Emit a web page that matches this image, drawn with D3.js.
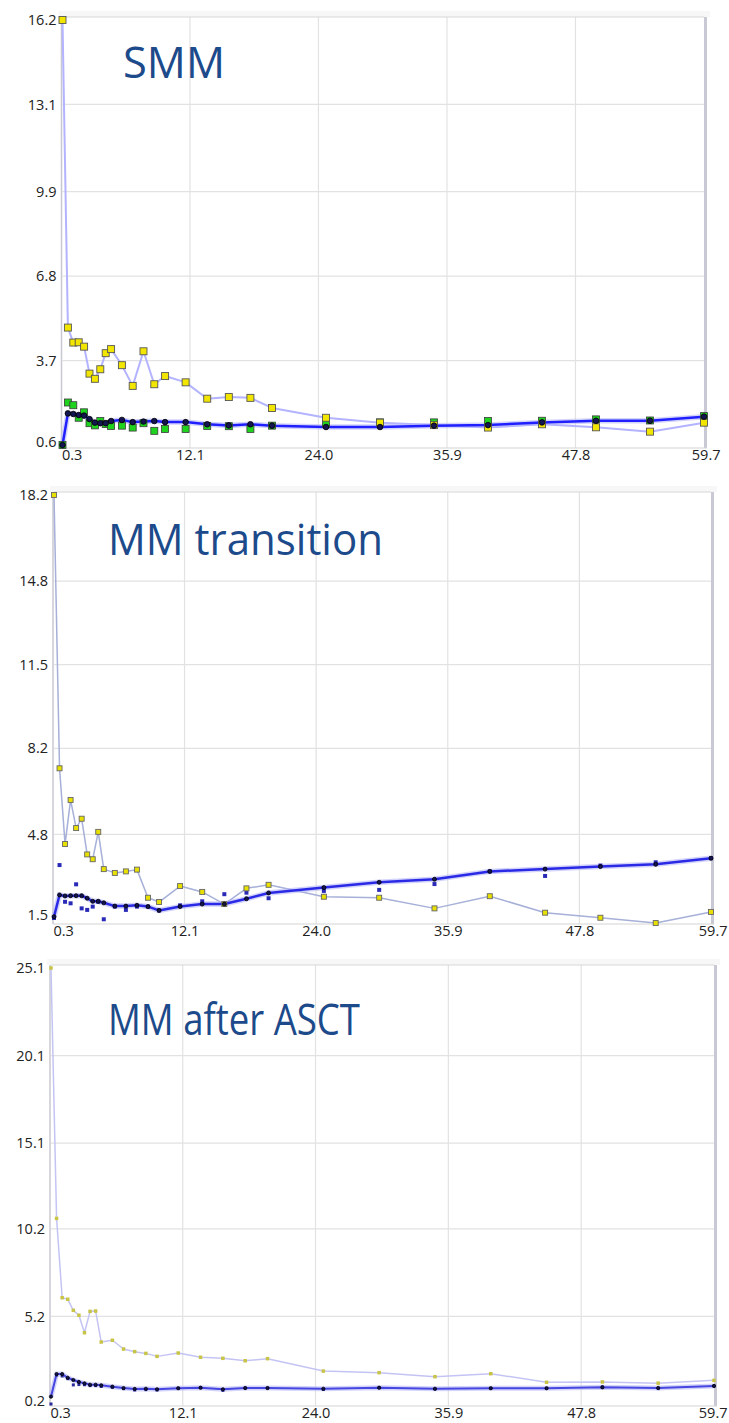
<!DOCTYPE html>
<html>
<head>
<meta charset="utf-8">
<script src="https://cdn.jsdelivr.net/npm/d3@7"></script>
<style>
  html, body { margin: 0; padding: 0; background: #ffffff; }
  svg { display: block; }
</style>
</head>
<body>
<svg id="chart" width="729" height="1423"></svg>
<script>
// ---------- DATA ----------
const months = [0.3, 0.8, 1.3, 1.8, 2.3, 2.8, 3.3, 3.8, 4.3, 4.8, 5.8, 6.8, 7.8, 8.8, 9.8, 11.7, 13.7, 15.7, 17.7, 19.7, 24.7, 29.7, 34.7, 39.7, 44.7, 49.7, 54.7, 59.7];
const xTicks = [0.3, 12.1, 24.0, 35.9, 47.8, 59.7];

const titles = ["SMM", "MM transition", "MM after ASCT"];

const smmTicks = [0.6, 3.7, 6.8, 9.9, 13.1, 16.2];
const smmUpper = [16.2, 4.91, 4.36, 4.37, 4.21, 3.22, 3.03, 3.38, 3.97, 4.12, 3.53, 2.77, 4.04, 2.83, 3.13, 2.90, 2.30, 2.36, 2.33, 1.96, 1.60, 1.42, 1.33, 1.24, 1.36, 1.25, 1.09, 1.42];
const smmMedian = [0.6, 1.76, 1.74, 1.70, 1.68, 1.55, 1.42, 1.40, 1.40, 1.48, 1.52, 1.44, 1.46, 1.48, 1.44, 1.44, 1.36, 1.32, 1.36, 1.31, 1.26, 1.26, 1.31, 1.33, 1.43, 1.49, 1.49, 1.64];
const smmPoints = [0.6, 2.16, 2.06, 1.60, 1.80, 1.40, 1.32, 1.48, 1.37, 1.30, 1.31, 1.24, 1.40, 1.12, 1.19, 1.19, 1.30, 1.29, 1.19, 1.31, 1.38, 1.43, 1.43, 1.48, 1.49, 1.54, 1.50, 1.66];

const transTicks = [1.5, 4.8, 8.2, 11.5, 14.8, 18.2];
const transUpper = [18.2, 7.41, 4.42, 6.16, 5.05, 5.42, 4.01, 3.82, 4.90, 3.43, 3.28, 3.34, 3.41, 2.30, 2.13, 2.76, 2.53, 2.05, 2.67, 2.81, 2.34, 2.30, 1.88, 2.36, 1.71, 1.51, 1.30, 1.74];
const transMedian = [1.55, 2.41, 2.37, 2.38, 2.38, 2.38, 2.28, 2.16, 2.16, 2.10, 1.97, 1.97, 2.00, 1.95, 1.80, 1.95, 2.05, 2.05, 2.26, 2.49, 2.70, 2.91, 3.03, 3.34, 3.43, 3.53, 3.62, 3.86];
const transPoints = [1.5, 3.59, 2.14, 2.08, 2.83, 1.88, 1.82, 1.95, 2.14, 1.45, 1.95, 1.82, 1.95, 1.95, 1.80, 2.00, 2.16, 2.44, 2.50, 2.28, 2.57, 2.61, 2.84, 3.34, 3.16, 3.57, 3.70, 3.86];

const asctTicks = [0.2, 5.2, 10.2, 15.1, 20.1, 25.1];
const asctUpper = [25.1, 10.8, 6.27, 6.18, 5.55, 5.27, 4.27, 5.49, 5.51, 3.74, 3.84, 3.34, 3.19, 3.09, 2.92, 3.11, 2.87, 2.81, 2.67, 2.79, 2.08, 1.99, 1.76, 1.93, 1.44, 1.46, 1.39, 1.55];
const asctMedian = [0.62, 1.91, 1.91, 1.70, 1.57, 1.46, 1.38, 1.30, 1.30, 1.27, 1.19, 1.11, 1.06, 1.07, 1.04, 1.10, 1.13, 1.04, 1.11, 1.11, 1.07, 1.13, 1.07, 1.10, 1.10, 1.15, 1.12, 1.23];
const asctPoints = [0.2, 1.85, 1.80, 1.65, 1.29, 1.31, 1.30, 1.25, 1.25, 1.20, 1.15, 1.08, 1.00, 1.02, 1.00, 1.10, 1.13, 0.98, 1.11, 1.11, 1.03, 1.13, 1.05, 1.10, 1.10, 1.18, 1.08, 1.23];

// ---------- LAYOUT / STYLE ----------
const panels = [
  { title: titles[0], ticks: smmTicks, upper: smmUpper, median: smmMedian, pts: smmPoints,
    box: { l: 62.5, r: 704, t: 20, b: 445 }, titleX: 123, titleY: 78, titleW: 102,
    upLine: "#b3b3ff", upW: 2, upSize: 7, upFill: "#f2e600", upStroke: "#555",
    medLine: "#1f1fff", medW: 2.5, medR: 2.8,
    ptFill: "#1ed21e", ptStroke: "#3a3a3a", ptSize: 7, frameBottom: 448 },
  { title: titles[1], ticks: transTicks, upper: transUpper, median: transMedian, pts: transPoints,
    box: { l: 54, r: 711, t: 495, b: 918 }, titleX: 108, titleY: 555, titleW: 275,
    upLine: "#a6b0d8", upW: 1.5, upSize: 5, upFill: "#e8e000", upStroke: "#666",
    medLine: "#2a2ae6", medW: 2.5, medR: 2,
    ptFill: "#2a2ab8", ptStroke: "none", ptSize: 4, frameBottom: 924 },
  { title: titles[2], ticks: asctTicks, upper: asctUpper, median: asctMedian, pts: asctPoints,
    box: { l: 51, r: 714, t: 968, b: 1404 }, titleX: 108, titleY: 1035, titleW: 252,
    upLine: "#c4c4f4", upW: 1.5, upSize: 3.5, upFill: "#c8c448", upStroke: "none",
    medLine: "#4646e0", medW: 2, medR: 1.6,
    ptFill: "#2a2a9a", ptStroke: "none", ptSize: 3, frameBottom: 1406 }
];

const svg = d3.select("#chart");
const labelFont = "'Open Sans', sans-serif";

panels.forEach((p, pi) => {
  const B = p.box;
  const x = d3.scaleLinear().domain([xTicks[0], xTicks[xTicks.length - 1]]).range([B.l, B.r]);
  const y = d3.scaleLinear().domain([p.ticks[0], p.ticks[p.ticks.length - 1]]).range([B.b, B.t]);
  const g = svg.append("g");

  // faint band above frame
  g.append("rect").attr("x", B.l - 4).attr("y", B.t - 9).attr("width", B.r - B.l + 10).attr("height", 6)
    .attr("fill", "#f7f7f7");

  // grid
  g.append("g").selectAll("line").data(p.ticks.slice(1, -1)).join("line")
    .attr("x1", B.l).attr("x2", B.r).attr("y1", d => y(d)).attr("y2", d => y(d))
    .attr("stroke", "#e2e2e2").attr("stroke-width", 1.2);
  g.append("g").selectAll("line").data(xTicks.slice(1, -1)).join("line")
    .attr("x1", d => x(d)).attr("x2", d => x(d)).attr("y1", B.t - 3).attr("y2", p.frameBottom)
    .attr("stroke", "#e2e2e2").attr("stroke-width", 1.2);

  // frame
  g.append("line").attr("x1", B.l).attr("x2", B.r).attr("y1", B.t - 3).attr("y2", B.t - 3)
    .attr("stroke", "#d8d8d8").attr("stroke-width", 1.2);
  g.append("line").attr("x1", B.r + 1.5).attr("x2", B.r + 1.5).attr("y1", B.t - 3).attr("y2", p.frameBottom)
    .attr("stroke", "#c9c9d6").attr("stroke-width", 3);
  g.append("line").attr("x1", B.l - 1).attr("x2", B.l - 1).attr("y1", B.t - 3).attr("y2", p.frameBottom)
    .attr("stroke", "#c8c8d0").attr("stroke-width", 1.5);
  g.append("line").attr("x1", B.l - 1).attr("x2", B.r + 3).attr("y1", p.frameBottom).attr("y2", p.frameBottom)
    .attr("stroke", "#d4d4d4").attr("stroke-width", 1.2);

  // axes tick labels
  const yAxis = d3.axisLeft(y).tickValues(p.ticks).tickSize(0).tickPadding(5).tickFormat(d3.format(".1f"));
  const ya = g.append("g").attr("transform", `translate(${B.l - 1},0)`).call(yAxis);
  ya.select(".domain").remove();
  ya.selectAll("text").attr("font-family", labelFont).attr("font-size", 14.5).attr("fill", "#222");
  ya.selectAll("text").filter((d, i) => i === 0).attr("dy", "0.1em");

  const xAxis = d3.axisBottom(x).tickValues(xTicks).tickSize(0).tickPadding(2).tickFormat(d3.format(".1f"));
  const xa = g.append("g").attr("transform", `translate(0,${p.frameBottom})`).call(xAxis);
  xa.select(".domain").remove();
  xa.selectAll("text").attr("font-family", labelFont).attr("font-size", 14.5).attr("fill", "#222");
  xa.selectAll("text").filter((d, i) => i === 0).attr("text-anchor", "start").attr("dx", "-1");
  xa.selectAll("text").filter((d, i) => i === xTicks.length - 1)
    .attr("text-anchor", "end").attr("x", Math.min(16, 727 - B.r));

  // title
  g.append("text").attr("x", p.titleX).attr("y", p.titleY)
    .attr("font-family", labelFont).attr("font-size", 43)
    .attr("textLength", p.titleW).attr("lengthAdjust", "spacingAndGlyphs")
    .attr("fill", "#1c4a8a").text(p.title);

  const line = d3.line().x((d, i) => x(months[i])).y(d => y(d));

  // upper series line
  g.append("path").datum(p.upper).attr("d", line).attr("fill", "none")
    .attr("stroke", p.upLine).attr("stroke-width", p.upW).attr("stroke-linejoin", "round");

  // median line with soft band
  g.append("path").datum(p.median).attr("d", line).attr("fill", "none")
    .attr("stroke", "#b8b8f8").attr("stroke-width", p.medW + 3).attr("stroke-opacity", 0.6);
  g.append("path").datum(p.median).attr("d", line).attr("fill", "none")
    .attr("stroke", p.medLine).attr("stroke-width", p.medW).attr("stroke-linejoin", "round");

  // extra point series (squares)
  g.append("g").selectAll("rect").data(p.pts).join("rect")
    .attr("x", (d, i) => x(months[i]) - p.ptSize / 2).attr("y", d => y(d) - p.ptSize / 2)
    .attr("width", p.ptSize).attr("height", p.ptSize)
    .attr("fill", p.ptFill).attr("stroke", p.ptStroke).attr("stroke-width", 0.8);

  // upper markers
  g.append("g").selectAll("rect").data(p.upper).join("rect")
    .attr("x", (d, i) => x(months[i]) - p.upSize / 2).attr("y", d => y(d) - p.upSize / 2)
    .attr("width", p.upSize).attr("height", p.upSize)
    .attr("fill", p.upFill).attr("stroke", p.upStroke).attr("stroke-width", 0.9);

  // median markers
  g.append("g").selectAll("circle").data(p.median).join("circle")
    .attr("cx", (d, i) => x(months[i])).attr("cy", d => y(d)).attr("r", p.medR)
    .attr("fill", "#141450").attr("stroke", "#000").attr("stroke-width", 0.8);
});
</script>
</body>
</html>
